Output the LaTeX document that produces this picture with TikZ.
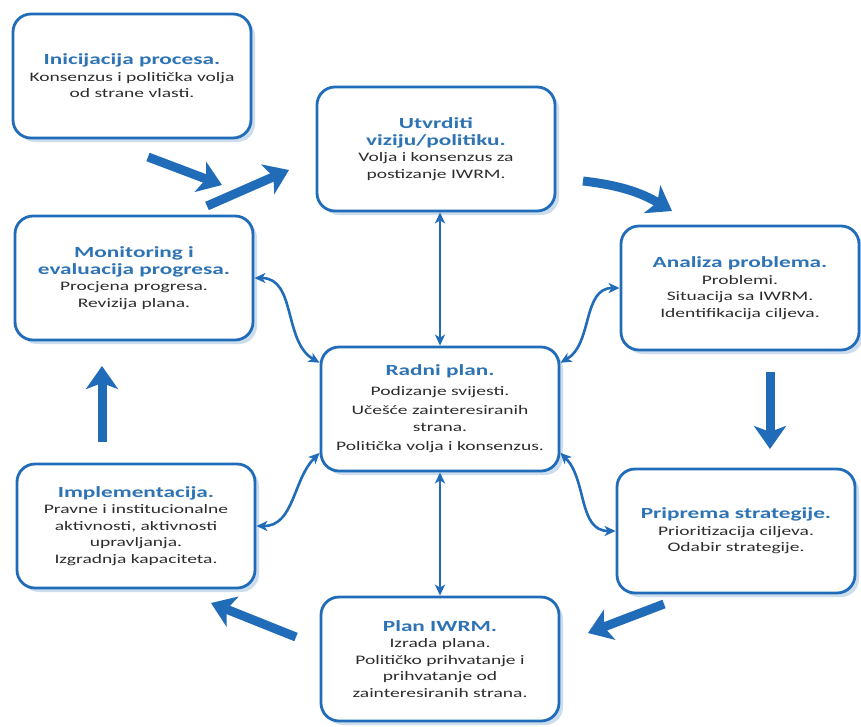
\documentclass[tikz,border=0pt]{standalone}
\usepackage{fontspec}
\setmainfont[FakeStretch=1.5]{Carlito}
\usetikzlibrary{arrows.meta,shadows}
\definecolor{boxblue}{RGB}{33,108,184}
\definecolor{headblue}{RGB}{46,116,181}
\definecolor{bodygray}{RGB}{45,45,45}
\newcommand{\head}[1]{{\color{headblue}\bfseries\fontsize{15.5}{18}\selectfont #1}}

\begin{document}
\begin{tikzpicture}[x=1pt, y=1pt,
    box/.style = {draw=boxblue, line width=2.8pt, fill=white, rounded corners=18pt,
      minimum width=238pt, minimum height=124pt, align=center, text=bodygray,
      font=\fontsize{13}{16.5}\selectfont,
      drop shadow={shadow xshift=4pt, shadow yshift=-4pt, fill=boxblue!50, opacity=.45}},
    big/.style = {draw=boxblue, line width=9pt, -{Stealth[length=23pt,width=32pt,inset=6pt]}},
    link/.style = {draw=boxblue, line width=2.6pt,
      {Stealth[length=11pt,width=10pt,inset=3pt]}-{Stealth[length=11pt,width=10pt,inset=3pt]}}]
    \fill[white] (0,0) rectangle (861,-726);
    \useasboundingbox (0,0) rectangle (861,-726);
    % boxes
    \node[box] (init) at (132,-76) {\head{Inicijacija procesa.}\\ Konsenzus i politička volja\\ od strane vlasti.};
    \node[box] (vision) at (436,-149) {\head{Utvrditi}\\ \head{viziju/politiku.}\\ Volja i konsenzus za\\ postizanje IWRM.};
    \node[box] (analiza) at (740,-288) {\head{Analiza problema.}\\ Problemi.\\ Situacija sa IWRM.\\ Identifikacija ciljeva.};
    \node[box] (monitor) at (134,-278) {\head{Monitoring i}\\ \head{evaluacija progresa.}\\ Procjena progresa.\\ Revizija plana.};
    \node[box] (radni) at (440,-409) {\head{Radni plan.}\\[3pt] Podizanje svijesti.\\[3pt] Učešće zainteresiranih\\ strana.\\[3pt] Politička volja i konsenzus.};
    \node[box] (impl) at (136,-526) {\head{Implementacija.}\\ Pravne i institucionalne\\ aktivnosti, aktivnosti\\ upravljanja.\\ Izgradnja kapaciteta.};
    \node[box] (priprema) at (736,-531) {\head{Priprema strategije.}\\ Prioritizacija ciljeva.\\ Odabir strategije.};
    \node[box] (plan) at (440,-659) {\head{Plan IWRM.}\\ Izrada plana.\\ Političko prihvatanje i\\ prihvatanje od\\ zainteresiranih strana.};
    % cycle arrows
    \coordinate (a1) at (148,-157); \coordinate (b1) at (222,-185);
    \coordinate (a2) at (207,-206); \coordinate (b2) at (289,-170);
    \coordinate (a3) at (583,-181); \coordinate (b3) at (672,-211);
    \coordinate (a4) at (770,-372); \coordinate (b4) at (770,-449);
    \coordinate (a5) at (664,-604); \coordinate (b5) at (588,-633);
    \coordinate (a6) at (296,-637); \coordinate (b6) at (211,-603);
    \coordinate (a7) at (102,-442); \coordinate (b7) at (102,-366);
    \draw[big] (a1) -- (b1);
    \draw[big] (a2) -- (b2);
    \draw[big] (a3) to[bend left=12] (b3);
    \draw[big] (a4) -- (b4);
    \draw[big] (a5) -- (b5);
    \draw[big] (a6) -- (b6);
    \draw[big] (a7) -- (b7);
    % links to the work plan
    \draw[link] (radni.north |- vision.south) -- (radni.north);
    \draw[link] (radni.south) -- (plan.north);
    \draw[link] (monitor.east) to[out=0, in=150] (radni.159);
    \draw[link] (analiza.west) to[out=180, in=30] (radni.21);
    \draw[link] (radni.-20) to[out=-45, in=180] (priprema.west);
    \draw[link] (radni.200) to[out=225, in=0] (impl.east);
\end{tikzpicture}
\end{document}
